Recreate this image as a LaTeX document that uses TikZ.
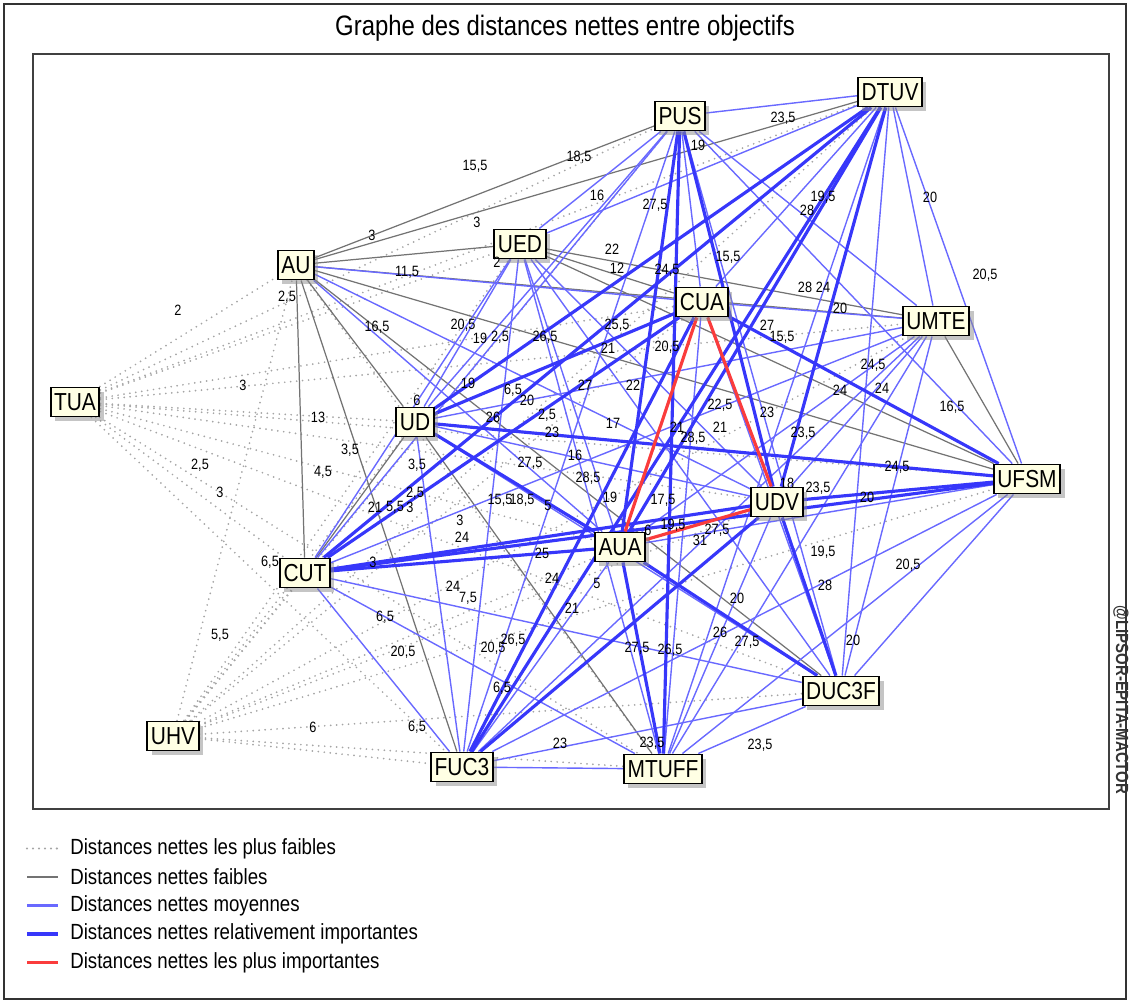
\documentclass[tikz,border=0pt]{standalone}
\usepackage{fontspec}
\setmainfont{Liberation Sans}[FakeStretch=0.85]
\usetikzlibrary{backgrounds, shadows}

\definecolor{boxfill}{RGB}{255,255,228}
\definecolor{midblue}{RGB}{105,105,255}
\definecolor{deepblue}{RGB}{55,55,250}
\definecolor{topred}{RGB}{250,60,60}
\definecolor{dotgray}{RGB}{165,165,165}
\definecolor{linegray}{RGB}{115,115,115}

\begin{document}
\begin{tikzpicture}[
    x=0.02cm, y=-0.02cm,
    obj/.style={draw, line width=1.1pt, fill=boxfill, inner xsep=2pt, inner ysep=1pt, minimum height=0.58cm, font=\fontsize{14}{14}\selectfont, drop shadow={shadow xshift=2.5pt, shadow yshift=-2.5pt, fill=black!45}},
    lab/.style={inner sep=0pt, font=\fontsize{8.5}{8.5}\selectfont},
    legtext/.style={anchor=west, inner sep=0pt, font=\fontsize{12.5}{12.5}\selectfont},
    vweak/.style={dotgray, line width=1.1pt, dash pattern=on 0pt off 3.4pt, line cap=round},
    weak/.style={linegray, line width=0.7pt},
    medline/.style={midblue, line width=0.8pt},
    strong/.style={deepblue, line width=1.8pt},
    vstrong/.style={topred, line width=1.8pt}
]
\useasboundingbox (0,0) rectangle (1130,1003);

% frames and title
\draw[line width=1pt, black!80] (4,4) rectangle (1126,999);
\draw[line width=1.4pt, black!75] (33,54) rectangle (1109,809);
\node[font=\fontsize{16}{16}\selectfont] (title) at (565,28) {Graphe des distances nettes entre objectifs};
\node[rotate=-90, font=\bfseries\fontsize{10}{10}\selectfont, text=black!80] (mark) at (1121,700) {@LIPSOR-EPITA-MACTOR};

% objectives
\node[obj] (PUS) at (680,116) {PUS};
\node[obj] (DTUV) at (890,92) {DTUV};
\node[obj] (AU) at (296,265) {AU};
\node[obj] (UED) at (520,244) {UED};
\node[obj] (CUA) at (702,302) {CUA};
\node[obj] (UMTE) at (936,321) {UMTE};
\node[obj] (TUA) at (75,402) {TUA};
\node[obj] (UD) at (415,422) {UD};
\node[obj] (UFSM) at (1027,479) {UFSM};
\node[obj] (UDV) at (777,502) {UDV};
\node[obj] (AUA) at (620,547) {AUA};
\node[obj] (CUT) at (305,573) {CUT};
\node[obj] (DUC3F) at (841,691) {DUC3F};
\node[obj] (UHV) at (173,736) {UHV};
\node[obj] (FUC3) at (462,767) {FUC3};
\node[obj] (MTUFF) at (663,769) {MTUFF};

\begin{scope}[on background layer]
% weakest
\foreach \b in {AU,UED,PUS,DTUV,CUA,UMTE,UD,UFSM,UDV,AUA,CUT,DUC3F,FUC3,MTUFF}
  {\draw[vweak] (TUA) -- (\b); \draw[vweak] (UHV) -- (\b);}
\draw[vweak] (AU) -- (MTUFF);
% weak
\foreach \a/\b in {AU/UED, AU/PUS, AU/DTUV, AU/UMTE, AU/UFSM, AU/UD, AU/CUT, AU/FUC3, AU/DUC3F,
  UED/CUA, UED/UMTE, UED/UFSM, UMTE/UFSM, UD/CUT, UD/MTUFF}
  \draw[weak] (\a) -- (\b);
% medium
\foreach \a/\b in {AU/CUA, AU/UDV, AU/AUA,
  UED/PUS, UED/DTUV, UED/UD, UED/UDV, UED/AUA, UED/CUT, UED/DUC3F, UED/FUC3, UED/MTUFF,
  PUS/DTUV, PUS/CUA, PUS/UMTE, PUS/UD, PUS/UFSM, PUS/CUT, PUS/DUC3F, PUS/FUC3,
  DTUV/CUA, DTUV/UMTE, DTUV/UFSM, DTUV/DUC3F, DTUV/MTUFF,
  CUA/UMTE, CUA/DUC3F, CUA/MTUFF,
  UMTE/UD, UMTE/UDV, UMTE/AUA, UMTE/CUT, UMTE/DUC3F, UMTE/FUC3, UMTE/MTUFF,
  UD/UDV, UD/DUC3F, UD/FUC3,
  UFSM/AUA, UFSM/DUC3F, UFSM/FUC3, UFSM/MTUFF,
  UDV/MTUFF, AUA/FUC3, CUT/DUC3F, CUT/FUC3, CUT/MTUFF,
  DUC3F/FUC3, DUC3F/MTUFF, FUC3/MTUFF}
  \draw[medline] (\a) -- (\b);
% relatively strong
\foreach \a/\b in {PUS/UDV, PUS/AUA, PUS/MTUFF, DTUV/UD, DTUV/UDV, DTUV/AUA, DTUV/CUT, DTUV/FUC3,
  CUA/UD, CUA/UFSM, CUA/CUT, CUA/FUC3, UD/UFSM, UD/AUA, UFSM/UDV, UFSM/CUT,
  UDV/CUT, UDV/DUC3F, UDV/FUC3, AUA/CUT, AUA/DUC3F, AUA/MTUFF}
  \draw[strong] (\a) -- (\b);
% strongest
\foreach \a/\b in {CUA/AUA, CUA/UDV, UDV/AUA}
  \draw[vstrong] (\a) -- (\b);
\end{scope}

% distance labels
\foreach \x/\y/\t [count=\n] in {178/310/2, 287/297/{2,5}, 372/235/3, 407/272/{11,5}, 377/327/{16,5},
  243/385/3, 475/166/{15,5}, 579/157/{18,5}, 597/195/16, 655/205/{27,5}, 477/222/3, 698/145/19,
  612/249/22, 617/268/12, 667/270/{24,5}, 728/257/{15,5}, 497/262/2, 463/325/{20,5}, 480/338/19,
  500/337/{2,5}, 545/337/{26,5}, 617/325/{25,5}, 608/348/21, 667/347/{20,5}, 783/118/{23,5},
  823/197/{19,5}, 807/210/28, 930/197/20, 985/275/{20,5}, 805/287/28, 823/287/24, 840/308/20,
  767/325/27, 782/337/{15,5}, 873/365/{24,5}, 840/390/24, 882/388/24, 952/407/{16,5}, 767/412/23,
  803/433/{23,5}, 897/467/{24,5}, 818/488/{23,5}, 867/497/20, 823/552/{19,5}, 908/565/{20,5},
  825/585/28, 787/483/18, 468/383/19, 513/390/{6,5}, 527/400/20, 493/417/26, 585/385/27,
  633/385/22, 547/415/{2,5}, 552/432/23, 613/423/17, 720/405/{22,5}, 720/427/21, 677/427/21,
  693/438/{28,5}, 530/463/{27,5}, 575/455/16, 588/478/{28,5}, 610/497/19, 663/500/{17,5},
  500/500/{15,5}, 522/500/{18,5}, 548/505/5, 673/525/{19,5}, 717/530/{27,5}, 700/540/31,
  460/520/3, 462/537/24, 542/553/25, 552/578/24, 597/583/5, 417/465/{3,5}, 415/493/{2,5},
  318/417/13, 350/450/{3,5}, 323/472/{4,5}, 200/465/{2,5}, 220/492/3, 375/507/21, 395/507/{5,5},
  410/507/3, 270/562/{6,5}, 373/562/3, 385/617/{6,5}, 220/635/{5,5}, 403/652/{20,5}, 313/727/6,
  417/727/{6,5}, 453/586/24, 468/598/{7,5}, 572/608/21, 493/648/{20,5}, 513/640/{26,5},
  502/688/{6,5}, 560/743/23, 652/743/{23,5}, 637/648/{27,5}, 670/650/{26,5}, 737/598/20,
  720/632/26, 747/642/{27,5}, 853/640/20, 760/745/{23,5}, 417/400/6, 648/530/6}
  \node[lab] (d\n) at (\x,\y) {\t};

% legend
\foreach \i/\s/\w/\t in {1/vweak/1.3pt/{Distances nettes les plus faibles}, 2/weak/1.2pt/{Distances nettes faibles},
  3/medline/1.2pt/{Distances nettes moyennes}, 4/strong/2.2pt/{Distances nettes relativement importantes},
  5/vstrong/2.2pt/{Distances nettes les plus importantes}}
  {\node[legtext] (leg\i) at (70,820+28.5*\i) {\t};
   \draw[\s, line width=\w] (27,820+28.5*\i) -- (58,820+28.5*\i);}
\end{tikzpicture}
\end{document}
